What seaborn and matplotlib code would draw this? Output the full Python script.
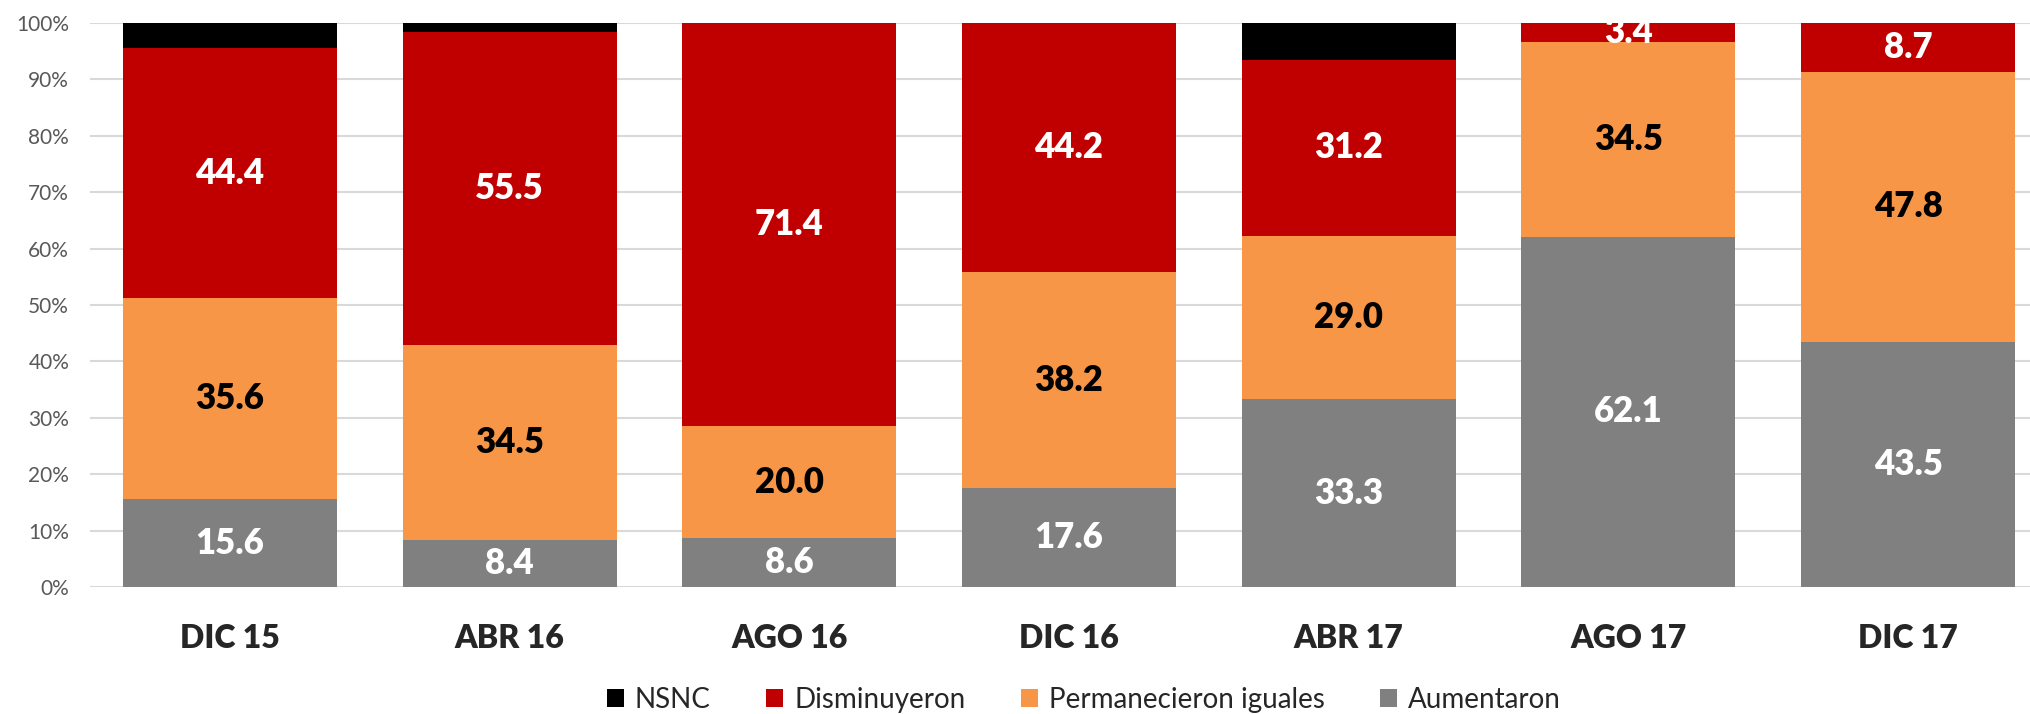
import numpy as np
from matplotlib import pyplot as plt
from matplotlib.patches import Patch
import seaborn as sns

periodos = ['DIC 15', 'ABR 16', 'AGO 16', 'DIC 16', 'ABR 17', 'AGO 17', 'DIC 17']
aumentaron = [15.6, 8.4, 8.6, 17.6, 33.3, 62.1, 43.5]
permanecieron = [35.6, 34.5, 20.0, 38.2, 29.0, 34.5, 47.8]
disminuyeron = [44.4, 55.5, 71.4, 44.2, 31.2, 3.4, 8.7]
nsnc = [4.4, 1.6, 0.0, 0.0, 6.5, 0.0, 0.0]
yticks = [0, 10, 20, 30, 40, 50, 60, 70, 80, 90, 100]

sns.set_style('white')
plt.rcParams['font.family'] = ['Lato', 'DejaVu Sans']

# series from bottom to top
series = [
    ('Aumentaron', aumentaron, '#808080', 'white'),
    ('Permanecieron iguales', permanecieron, '#F79646', 'black'),
    ('Disminuyeron', disminuyeron, '#C00000', 'white'),
    ('NSNC', nsnc, '#000000', None),
]

fig = plt.figure(figsize=(20.3, 7.14), dpi=100)
ax = fig.add_axes([90/2030, 1-587/714, 1-90/2030, (587-23)/714])

cum = np.zeros(len(periodos))
tops = []
for name, vals, col, tcol in series:
    cum = cum + np.array(vals)
    tops.append(cum.copy())

# draw cumulative totals from the top down so the lower series cover them
for (name, vals, col, tcol), top in reversed(list(zip(series, tops))):
    sns.barplot(x=periodos, y=top, color=col, width=0.765, ax=ax,
                saturation=1, zorder=3, linewidth=0)

base = np.zeros(len(periodos))
for name, vals, col, tcol in series:
    vals = np.array(vals)
    if tcol is not None:
        for i, v in enumerate(vals):
            if v > 0:
                ax.text(i, base[i] + v/2, '{:.1f}'.format(v), ha='center', va='center',
                        color=tcol, fontsize=25, fontweight='heavy', zorder=5)
    base = base + vals

ax.set_ylim(0, 100)
ax.set_xlim(-0.5, 6.5 - 18/279.75)
ax.set_yticks(yticks)
ax.set_yticklabels(['{}%'.format(t) for t in yticks], color='#595959', fontsize=15)
ax.yaxis.grid(True, color='#D9D9D9', linewidth=1.5, zorder=0)
ax.set_axisbelow(True)
for s in ax.spines.values():
    s.set_visible(False)
ax.tick_params(axis='y', length=0, pad=15)
ax.tick_params(axis='x', length=0, pad=27)
for lab in ax.get_xticklabels():
    lab.set_fontsize(23)
    lab.set_fontweight('heavy')
ax.set_xlabel('')
ax.set_ylabel('')

handles = [Patch(facecolor=c, edgecolor='none', label=n) for n, _, c, _ in reversed(series)]
fig.legend(handles=handles, loc='center', bbox_to_anchor=(0.534, 1-700/714), ncol=4,
           frameon=False, fontsize=20, handlelength=0.6, handleheight=0.6,
           handletextpad=0.4, columnspacing=2.0)

fig.savefig('out.png', dpi=100)
